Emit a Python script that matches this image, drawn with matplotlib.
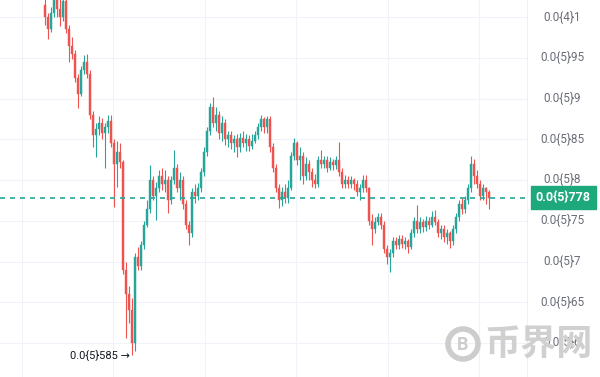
import matplotlib
matplotlib.use("Agg")
import matplotlib.pyplot as plt
import matplotlib.transforms as mtransforms
from matplotlib.patches import Circle

plt.rcParams["font.family"] = ["Roboto", "DejaVu Sans"]

# Prices are stored in units of 1e-8 (e.g. 778 -> 0.00000778)
opens = [1015, 1000, 985, 1005, 1025, 1010, 1000, 1020, 985, 965,
         955, 925, 905, 935, 945, 930, 880, 855, 862, 870,
         858, 865, 872, 845, 820, 835, 822, 690, 660, 640,
         600, 705, 695, 720, 745, 765, 800, 780, 790, 805,
         795, 800, 775, 800, 815, 790, 800, 770, 745, 735,
         785, 780, 790, 810, 835, 860, 890, 870, 880, 858,
         870, 850, 855, 845, 850, 840, 852, 845, 850, 842,
         848, 855, 865, 875, 865, 875, 840, 815, 790, 775,
         785, 778, 790, 830, 845, 825, 830, 805, 820, 810,
         800, 795, 825, 820, 825, 815, 822, 818, 825, 810,
         795, 800, 795, 800, 795, 785, 790, 800, 790, 750,
         740, 748, 755, 745, 715, 705, 710, 725, 720, 728,
         722, 725, 718, 735, 750, 740, 748, 742, 750, 745,
         755, 748, 735, 740, 730, 735, 725, 740, 755, 770,
         765, 775, 790, 820, 805, 795, 780, 790, 785]
closes = [1000, 985, 1005, 1025, 1010, 1000, 1020, 985, 965, 955,
          925, 905, 935, 945, 930, 880, 855, 862, 870, 858,
          865, 872, 845, 820, 835, 822, 690, 660, 640, 600,
          705, 695, 720, 745, 765, 800, 780, 790, 805, 795,
          800, 775, 800, 815, 790, 800, 770, 745, 735, 785,
          780, 790, 810, 835, 860, 890, 870, 880, 858, 870,
          850, 855, 845, 850, 840, 852, 845, 850, 842, 848,
          855, 865, 875, 865, 875, 840, 815, 790, 775, 785,
          778, 790, 830, 845, 825, 830, 805, 820, 810, 800,
          795, 825, 820, 825, 815, 822, 818, 825, 810, 795,
          800, 795, 800, 795, 785, 790, 800, 790, 750, 740,
          748, 755, 745, 715, 705, 710, 725, 720, 728, 722,
          725, 718, 735, 750, 740, 748, 742, 750, 745, 755,
          748, 735, 740, 730, 735, 725, 740, 755, 770, 765,
          775, 790, 820, 805, 795, 780, 790, 785, 778]
highs = [1030, 1005, 1012, 1035, 1035, 1030, 1030, 1030, 990, 975,
         960, 930, 940, 953, 955, 935, 885, 870, 878, 876,
         870, 880, 880, 850, 848, 845, 825, 700, 670, 655,
         710, 718, 725, 750, 775, 818, 805, 798, 812, 815,
         812, 805, 805, 837, 820, 810, 805, 775, 750, 790,
         795, 796, 815, 840, 865, 895, 902, 890, 885, 878,
         875, 860, 860, 855, 856, 858, 860, 856, 855, 856,
         860, 870, 880, 877, 878, 878, 845, 820, 795, 792,
         795, 800, 835, 851, 848, 840, 835, 828, 825, 815,
         808, 830, 837, 830, 830, 828, 826, 830, 847, 815,
         806, 805, 805, 803, 800, 795, 806, 806, 792, 758,
         755, 760, 760, 750, 720, 715, 730, 730, 733, 732,
         730, 728, 740, 755, 769, 755, 752, 756, 755, 762,
         763, 752, 745, 745, 740, 738, 745, 760, 775, 778,
         780, 795, 830, 826, 812, 800, 795, 792, 788]
lows = [990, 973, 982, 1000, 1000, 989, 995, 980, 945, 948,
        920, 888, 903, 930, 925, 875, 840, 828, 855, 850,
        815, 858, 840, 767, 792, 815, 685, 606, 625, 585,
        590, 690, 690, 715, 742, 760, 775, 751, 785, 788,
        785, 760, 770, 795, 785, 775, 765, 740, 720, 730,
        772, 775, 785, 805, 830, 855, 865, 860, 850, 848,
        843, 840, 838, 835, 828, 835, 840, 836, 836, 838,
        845, 850, 860, 858, 858, 835, 810, 785, 766, 768,
        772, 772, 788, 825, 818, 800, 795, 800, 800, 792,
        790, 792, 815, 815, 810, 812, 812, 813, 805, 790,
        790, 790, 790, 788, 780, 776, 785, 785, 745, 720,
        735, 745, 740, 710, 697, 687, 705, 715, 715, 716,
        715, 710, 715, 730, 735, 735, 736, 738, 740, 742,
        745, 730, 728, 724, 722, 717, 720, 735, 750, 758,
        760, 770, 785, 795, 790, 776, 775, 770, 765]

tick_values = [600, 650, 700, 750, 800, 850, 900, 950, 1000]
last_price = closes[-1]

UP = "#26a69a"
DOWN = "#ef5350"
BOX = "#1ea97c"


def fmt(v):
    s = f"{v * 1e-8:.12f}".rstrip("0")
    frac = s.split(".")[1]
    nz = len(frac) - len(frac.lstrip("0"))
    return f"0.0{{{nz}}}{frac[nz:]}"


tick_labels = [fmt(v) for v in tick_values]

W, H = 600, 377
fig = plt.figure(figsize=(W / 100, H / 100), dpi=100)
fig.patch.set_facecolor("white")
ax = fig.add_axes([0, 0, 527 / W, 1])
ax.set_facecolor("white")

n = len(closes)
xs = list(range(n))
ax.set_xlim(-15, 160.67)
ax.set_ylim(558.3, 1020.9)

# grid
for tv in tick_values:
    ax.axhline(tv, color="#f0f3fa", lw=0.8, zorder=0)
time_grid = [-7.67, 22.83, 53.33, 83.83, 114.33, 144.83]
for tx in time_grid:
    ax.axvline(tx, color="#f0f3fa", lw=0.8, zorder=0)

# candles
for i in xs:
    o, c, h, l = opens[i], closes[i], highs[i], lows[i]
    col = UP if c >= o else DOWN
    ax.vlines(i, l, h, color=col, lw=0.8, zorder=2)
    bot = min(o, c)
    hgt = max(abs(c - o), 0.8)
    ax.bar(i, hgt, bottom=bot, width=0.7, color=col, edgecolor=col,
           linewidth=0.3, zorder=3)

# last price line
ax.axhline(last_price, color=UP, lw=1.2, ls=(0, (3, 3)), zorder=4)

for s in ["top", "left", "bottom"]:
    ax.spines[s].set_visible(False)
ax.spines["right"].set_color("#eef0f4")
ax.spines["right"].set_linewidth(0.8)
ax.set_xticks([])
ax.set_yticks([])

# low annotation
low_i = lows.index(min(lows))
ax.text(low_i - 0.8, min(lows), fmt(min(lows)) + " →", ha="right", va="center",
        fontsize=8, color="#131722", zorder=5,
        family=["Roboto", "DejaVu Sans"])

# watermark
ax_wm = fig.add_axes([0, 0, 1, 1], facecolor="none")
ax_wm.set_xlim(0, W)
ax_wm.set_ylim(H, 0)
ax_wm.axis("off")
ax_wm.add_patch(Circle((463, 344), 15, fill=False, ec="#cdcdcd", lw=4))
ax_wm.text(463, 345, "B", ha="center", va="center", fontsize=13,
           fontweight="bold", color="#cdcdcd")
ax_wm.text(539, 344, "币界网", ha="center", va="center", fontsize=26,
           fontweight="bold", color="#d0d0d0",
           family=["Noto Sans CJK SC", "DejaVu Sans"])

# right price axis labels
trans = mtransforms.blended_transform_factory(fig.transFigure, ax.transData)
for tv, tl in zip(tick_values, tick_labels):
    ax.text(562 / W, tv, tl, transform=trans, ha="center", va="center",
            fontsize=8.5, color="#6a6d78", clip_on=False, zorder=6)

# last price box
ax.text(563 / W, last_price, fmt(last_price), transform=trans, ha="center",
        va="center", fontsize=9, fontweight="bold", color="white",
        clip_on=False, zorder=7,
        bbox=dict(boxstyle="square,pad=0.4", fc=BOX, ec=BOX))

fig.savefig("out.png", dpi=100, facecolor="white")
